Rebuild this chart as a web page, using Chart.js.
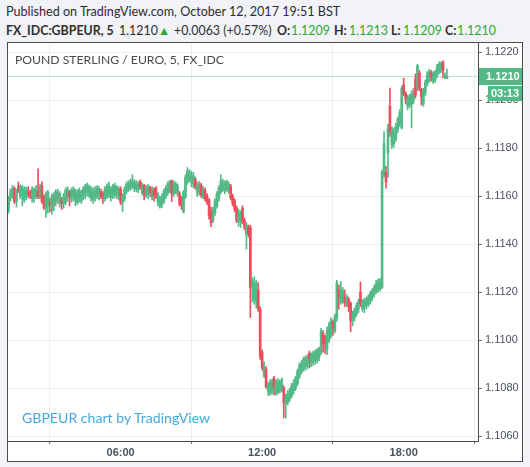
<!DOCTYPE html>
<html>
<head>
<meta charset="utf-8">
<script src="https://cdn.jsdelivr.net/npm/chart.js@4.4.1/dist/chart.umd.min.js"></script>
<style>
  html, body { margin:0; padding:0; }
  body { width:530px; height:467px; background:#f1f3f6; position:relative; overflow:hidden; font-family:Lato, "Liberation Sans", sans-serif; }
  #h1 { position:absolute; left:6px; top:4px; font-size:12.6px; line-height:16px; color:#2e2e2e; white-space:nowrap; }
  #h2 { position:absolute; left:0; top:23px; width:530px; height:16px; font-size:12.4px; line-height:16px; color:#2e2e2e; white-space:nowrap; }
  #h2 span { position:absolute; top:0; }
  #h2 .b { font-weight:700; }
  .g { color:#2fa83a; }
  #frame { position:absolute; left:7px; top:42px; width:516px; height:420px; box-sizing:border-box; border:1px solid #4a4a4a; background:#fff; }
  #c { position:absolute; left:0; top:0; }
  #title { position:absolute; left:15px; top:52px; font-size:12.2px; line-height:16px; color:#4a4a4a; white-space:nowrap; }
  #wm { position:absolute; left:22px; top:409px; font-size:14.1px; line-height:18px; color:#3fa9e0; white-space:nowrap; }
</style>
</head>
<body>
<div id="h1">Published on TradingView.com, October 12, 2017 19:51 BST</div>
<div id="h2"><span class="b" style="left:6px">FX_IDC:GBPEUR, 5</span><span style="left:119px">1.1210</span><span class="g" style="left:158px">&#9650;</span><span style="left:174px">+0.0063 (+0.57%)</span><span class="b" style="left:277px">O:</span><span class="g" style="left:291px">1.1209</span><span class="b" style="left:334px">H:</span><span class="g" style="left:349px">1.1213</span><span class="b" style="left:391px">L:</span><span class="g" style="left:403px">1.1209</span><span class="b" style="left:445px">C:</span><span class="g" style="left:457px">1.1210</span></div>
<div id="frame"><canvas id="c" width="514" height="418"></canvas></div>
<div id="title">POUND STERLING / EURO, 5, FX_IDC</div>
<div id="wm">GBPEUR chart by TradingView</div>
<script>
// ---- data (5-minute bars from 01:15 to 19:50) ----
const startMinute = 75;      // 01:15
const stepMinutes = 5;
const xTickLabels = ['06:00', '12:00', '18:00'];
const yTickValues = [1.1060, 1.1080, 1.1100, 1.1120, 1.1140, 1.1160, 1.1180, 1.1200, 1.1220];
const countdownLabel = '03:13';

const opens = [
1.11540,1.11595,1.11610,1.11632,1.11578,1.11642,1.11600,1.11605,1.11585,1.11600,
1.11620,1.11612,1.11590,1.11595,1.11600,1.11620,1.11598,1.11645,1.11600,1.11552,
1.11560,1.11575,1.11540,1.11560,1.11580,1.11590,1.11575,1.11580,1.11570,1.11575,
1.11595,1.11615,1.11590,1.11600,1.11585,1.11575,1.11590,1.11580,1.11600,1.11610,
1.11615,1.11605,1.11590,1.11585,1.11595,1.11600,1.11610,1.11620,1.11612,1.11590,
1.11600,1.11605,1.11595,1.11600,1.11610,1.11605,1.11600,1.11630,1.11575,1.11590,
1.11620,1.11630,1.11640,1.11640,1.11635,1.11630,1.11628,1.11660,1.11615,1.11645,
1.11605,1.11610,1.11635,1.11595,1.11625,1.11632,1.11575,1.11560,1.11565,1.11580,
1.11600,1.11615,1.11625,1.11662,1.11610,1.11620,1.11610,1.11610,1.11590,1.11535,
1.11600,1.11660,1.11670,1.11660,1.11650,1.11670,1.11615,1.11620,1.11645,1.11600,
1.11625,1.11600,1.11585,1.11540,1.11500,1.11530,1.11560,1.11590,1.11620,1.11630,
1.11625,1.11630,1.11625,1.11640,1.11600,1.11580,1.11550,1.11495,1.11500,1.11550,
1.11500,1.11440,1.11470,1.11470,1.11220,1.11170,1.11165,1.11210,1.11130,1.10950,
1.10850,1.10880,1.10790,1.10780,1.10790,1.10843,1.10780,1.10785,1.10790,1.10795,
1.10800,1.10735,1.10740,1.10755,1.10770,1.10790,1.10800,1.10820,1.10850,1.10870,
1.10880,1.10890,1.10895,1.10945,1.10905,1.10910,1.10915,1.10920,1.10930,1.10950,
1.11030,1.11010,1.10960,1.11000,1.11020,1.11075,1.11040,1.11090,1.11210,1.11160,
1.11170,1.11180,1.11150,1.11170,1.11155,1.11080,1.11095,1.11110,1.11130,1.11200,
1.11130,1.11140,1.11145,1.11150,1.11160,1.11175,1.11190,1.11200,1.11210,1.11215,
1.11220,1.11690,1.11700,1.11780,1.11975,1.11815,1.11820,1.11840,1.11880,1.11900,
1.11885,1.12064,1.12030,1.11975,1.11980,1.11985,1.12000,1.12090,1.12050,1.12114,
1.12045,1.11985,1.12030,1.12070,1.12085,1.12114,1.12080,1.12085,1.12105,1.12120,
1.12125,1.12160,1.12095,1.12090];

const highs = [
1.11600,1.11630,1.11645,1.11640,1.11630,1.11660,1.11648,1.11645,1.11640,1.11638,
1.11640,1.11625,1.11640,1.11635,1.11645,1.11714,1.11650,1.11660,1.11605,1.11620,
1.11625,1.11590,1.11610,1.11615,1.11628,1.11630,1.11620,1.11595,1.11612,1.11635,
1.11640,1.11625,1.11635,1.11640,1.11630,1.11628,1.11635,1.11625,1.11640,1.11650,
1.11655,1.11648,1.11640,1.11635,1.11640,1.11645,1.11642,1.11630,1.11620,1.11640,
1.11652,1.11660,1.11640,1.11650,1.11655,1.11645,1.11640,1.11640,1.11610,1.11640,
1.11660,1.11665,1.11672,1.11690,1.11670,1.11665,1.11662,1.11668,1.11655,1.11650,
1.11645,1.11650,1.11642,1.11640,1.11635,1.11640,1.11615,1.11600,1.11610,1.11630,
1.11645,1.11660,1.11668,1.11668,1.11665,1.11660,1.11652,1.11620,1.11600,1.11625,
1.11690,1.11720,1.11712,1.11705,1.11700,1.11680,1.11660,1.11662,1.11655,1.11640,
1.11635,1.11610,1.11590,1.11555,1.11555,1.11590,1.11620,1.11645,1.11690,1.11672,
1.11665,1.11668,1.11660,1.11650,1.11610,1.11590,1.11560,1.11545,1.11540,1.11560,
1.11510,1.11490,1.11480,1.11480,1.11260,1.11265,1.11250,1.11240,1.11140,1.10960,
1.10910,1.10890,1.10825,1.10835,1.10838,1.10850,1.10835,1.10840,1.10835,1.10843,
1.10810,1.10775,1.10790,1.10800,1.10820,1.10835,1.10850,1.10880,1.10905,1.10915,
1.10930,1.10935,1.10940,1.10955,1.10948,1.10955,1.10960,1.10965,1.10972,1.11050,
1.11040,1.11020,1.11055,1.11075,1.11093,1.11085,1.11110,1.11250,1.11230,1.11245,
1.11220,1.11210,1.11190,1.11180,1.11160,1.11120,1.11135,1.11155,1.11170,1.11243,
1.11170,1.11175,1.11180,1.11190,1.11205,1.11215,1.11230,1.11250,1.11255,1.11258,
1.11710,1.11870,1.11725,1.11900,1.12051,1.11890,1.11885,1.11905,1.11930,1.11962,
1.12060,1.12093,1.12035,1.12022,1.12025,1.12040,1.12050,1.12110,1.12150,1.12125,
1.12050,1.12050,1.12085,1.12120,1.12130,1.12125,1.12120,1.12125,1.12150,1.12160,
1.12160,1.12165,1.12115,1.12130];

const lows = [
1.11530,1.11580,1.11590,1.11570,1.11555,1.11615,1.11590,1.11560,1.11575,1.11585,
1.11595,1.11590,1.11575,1.11575,1.11590,1.11590,1.11590,1.11570,1.11545,1.11512,
1.11530,1.11535,1.11525,1.11540,1.11560,1.11570,1.11555,1.11545,1.11550,1.11565,
1.11580,1.11560,1.11575,1.11580,1.11560,1.11565,1.11575,1.11570,1.11585,1.11590,
1.11600,1.11595,1.11580,1.11570,1.11580,1.11590,1.11585,1.11590,1.11570,1.11580,
1.11590,1.11595,1.11580,1.11590,1.11595,1.11590,1.11585,1.11565,1.11535,1.11580,
1.11610,1.11620,1.11625,1.11630,1.11620,1.11618,1.11615,1.11630,1.11605,1.11585,
1.11595,1.11590,1.11600,1.11585,1.11580,1.11590,1.11560,1.11550,1.11553,1.11570,
1.11590,1.11605,1.11615,1.11578,1.11600,1.11610,1.11600,1.11560,1.11545,1.11530,
1.11590,1.11650,1.11660,1.11640,1.11635,1.11630,1.11600,1.11605,1.11595,1.11590,
1.11580,1.11565,1.11505,1.11473,1.11490,1.11520,1.11550,1.11580,1.11610,1.11620,
1.11610,1.11620,1.11612,1.11585,1.11560,1.11535,1.11490,1.11475,1.11470,1.11485,
1.11460,1.11380,1.11430,1.11095,1.11160,1.11150,1.11134,1.11120,1.10920,1.10875,
1.10845,1.10800,1.10770,1.10770,1.10775,1.10772,1.10770,1.10775,1.10780,1.10785,
1.10676,1.10676,1.10730,1.10745,1.10760,1.10775,1.10790,1.10810,1.10840,1.10860,
1.10870,1.10875,1.10880,1.10885,1.10890,1.10895,1.10900,1.10905,1.10915,1.10940,
1.10950,1.10945,1.10940,1.10990,1.11010,1.11020,1.11030,1.11080,1.11130,1.11150,
1.11155,1.11140,1.11140,1.11120,1.11035,1.11060,1.11080,1.11100,1.11115,1.11140,
1.11120,1.11115,1.11130,1.11140,1.11150,1.11165,1.11180,1.11195,1.11200,1.11205,
1.11215,1.11680,1.11634,1.11680,1.11850,1.11800,1.11805,1.11830,1.11865,1.11890,
1.11880,1.12020,1.11985,1.11960,1.11970,1.11885,1.11985,1.12010,1.12040,1.12040,
1.11980,1.11975,1.12020,1.12060,1.12075,1.12080,1.12070,1.12075,1.12095,1.12110,
1.12115,1.12095,1.12090,1.12090];

const closes = [
1.11595,1.11620,1.11635,1.11578,1.11625,1.11625,1.11640,1.11635,1.11630,1.11625,
1.11612,1.11602,1.11630,1.11625,1.11630,1.11598,1.11640,1.11578,1.11552,1.11610,
1.11615,1.11565,1.11600,1.11605,1.11620,1.11615,1.11610,1.11570,1.11600,1.11625,
1.11630,1.11600,1.11625,1.11630,1.11620,1.11615,1.11625,1.11615,1.11630,1.11640,
1.11645,1.11640,1.11630,1.11620,1.11625,1.11635,1.11630,1.11600,1.11598,1.11630,
1.11640,1.11645,1.11630,1.11640,1.11645,1.11635,1.11630,1.11575,1.11600,1.11630,
1.11650,1.11655,1.11660,1.11665,1.11660,1.11655,1.11650,1.11640,1.11645,1.11605,
1.11635,1.11640,1.11615,1.11630,1.11605,1.11600,1.11605,1.11590,1.11600,1.11620,
1.11635,1.11650,1.11660,1.11610,1.11655,1.11650,1.11640,1.11570,1.11560,1.11615,
1.11680,1.11705,1.11700,1.11690,1.11685,1.11640,1.11645,1.11650,1.11605,1.11630,
1.11590,1.11575,1.11520,1.11490,1.11545,1.11580,1.11610,1.11635,1.11665,1.11660,
1.11655,1.11660,1.11650,1.11595,1.11570,1.11545,1.11500,1.11535,1.11530,1.11495,
1.11470,1.11480,1.11445,1.11220,1.11245,1.11240,1.11235,1.11130,1.10935,1.10885,
1.10885,1.10805,1.10815,1.10825,1.10830,1.10805,1.10825,1.10830,1.10825,1.10835,
1.10740,1.10765,1.10775,1.10790,1.10810,1.10820,1.10840,1.10870,1.10895,1.10905,
1.10920,1.10925,1.10930,1.10925,1.10940,1.10945,1.10950,1.10955,1.10965,1.11040,
1.10985,1.10985,1.11040,1.11060,1.11080,1.11050,1.11100,1.11240,1.11180,1.11210,
1.11205,1.11155,1.11180,1.11140,1.11080,1.11110,1.11125,1.11145,1.11160,1.11155,
1.11160,1.11165,1.11170,1.11180,1.11195,1.11205,1.11220,1.11235,1.11240,1.11245,
1.11700,1.11820,1.11660,1.11880,1.11867,1.11880,1.11870,1.11890,1.11920,1.11950,
1.12050,1.12030,1.12005,1.12010,1.12015,1.12025,1.12040,1.12022,1.12145,1.12051,
1.12015,1.12040,1.12075,1.12110,1.12120,1.12095,1.12110,1.12115,1.12140,1.12150,
1.12155,1.12125,1.12105,1.12100];

// ---- styling ----
const upColor = '#53b987';
const downColor = '#eb4d5c';
const gridColor = '#ebeff2';
const axisColor = '#4a4a4a';
const labelColor = '#4c525e';

const toMinutes = s => { const [h, m] = s.split(':').map(Number); return h * 60 + m; };
const fmtTime = v => String(Math.floor(v / 60)).padStart(2, '0') + ':' + String(Math.round(v % 60)).padStart(2, '0');

const times = closes.map((_, i) => startMinute + stepMinutes * i);
const colors = closes.map((c, i) => c >= opens[i] ? upColor : downColor);
const bodyData = times.map((t, i) => ({ x: t, y: [opens[i], closes[i]] }));
const wickData = times.map((t, i) => ({ x: t, y: [lows[i], highs[i]] }));

const lastClose = closes[closes.length - 1];

const pricePlugin = {
  id: 'priceLine',
  beforeDatasetsDraw(chart) {
    const { ctx, chartArea, scales } = chart;
    const y = Math.round(scales.y.getPixelForValue(lastClose)) + 0.5;
    ctx.save();
    ctx.strokeStyle = '#bfe4cf';
    ctx.lineWidth = 1;
    ctx.beginPath();
    ctx.moveTo(chartArea.left, y);
    ctx.lineTo(chartArea.right, y);
    ctx.stroke();
    ctx.restore();
  },
  afterDraw(chart) {
    const { ctx, chartArea, scales, width } = chart;
    const y = scales.y.getPixelForValue(lastClose);
    ctx.save();
    ctx.fillStyle = upColor;
    const top = Math.round(y) - 8;
    ctx.fillRect(chartArea.right + 1, top, width - chartArea.right - 1, 17);
    ctx.fillRect(chartArea.right + 10, top + 18, width - chartArea.right - 10, 15);
    ctx.fillStyle = '#ffffff';
    ctx.font = 'bold 11px "Liberation Sans", Arial, sans-serif';
    ctx.textBaseline = 'middle';
    ctx.textAlign = 'left';
    ctx.fillText(lastClose.toFixed(4), chartArea.right + 8, top + 9);
    ctx.textAlign = 'center';
    ctx.fillText(countdownLabel, (chartArea.right + 10 + width) / 2, top + 26);
    ctx.restore();
  }
};

function noEdgePadding(s) {
  s.paddingTop = 0; s.paddingBottom = 0; s.paddingLeft = 0; s.paddingRight = 0;
}

new Chart(document.getElementById('c'), {
  type: 'bar',
  data: {
    datasets: [
      { data: bodyData, backgroundColor: colors, barThickness: 2, grouped: false, order: 0, minBarLength: 1, borderWidth: 0 },
      { data: wickData, backgroundColor: colors, barThickness: 1, grouped: false, order: 1, borderWidth: 0 }
    ]
  },
  options: {
    responsive: false,
    animation: false,
    devicePixelRatio: 1,
    layout: { padding: 0 },
    plugins: { legend: { display: false }, tooltip: { enabled: false }, title: { display: false } },
    scales: {
      x: {
        type: 'linear',
        min: 73.6,
        max: 1269,
        offset: false,
        afterFit(s) { s.height = 20; noEdgePadding(s); },
        afterBuildTicks(s) { s.ticks = xTickLabels.map(t => ({ value: toMinutes(t) })); },
        ticks: {
          callback: v => fmtTime(v),
          font: { family: '"Liberation Sans", Arial, sans-serif', size: 11, weight: 'bold' },
          color: labelColor,
          padding: 2,
          maxRotation: 0,
          autoSkip: false
        },
        grid: { color: gridColor, tickLength: 3, tickColor: '#6a6d78' },
        border: { color: axisColor, width: 1 }
      },
      y: {
        position: 'right',
        min: 1.1058,
        max: 1.12239,
        afterFit(s) { s.width = 44; noEdgePadding(s); },
        afterBuildTicks(s) { s.ticks = yTickValues.map(v => ({ value: v })); },
        ticks: {
          callback: v => Number(v).toFixed(4),
          font: { family: '"Liberation Sans", Arial, sans-serif', size: 11 },
          color: labelColor,
          padding: 3,
          autoSkip: false
        },
        grid: { color: gridColor, tickLength: 4, tickColor: '#6a6d78' },
        border: { color: axisColor, width: 1 }
      }
    }
  },
  plugins: [pricePlugin]
});
</script>
</body>
</html>
